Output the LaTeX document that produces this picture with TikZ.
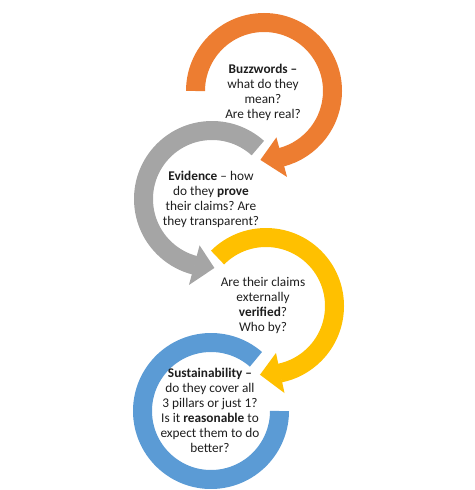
\documentclass[tikz,border=0pt]{standalone}
\usepackage{fontspec}
\setmainfont{Carlito}
\frenchspacing
\definecolor{corange}{HTML}{ED7D31}
\definecolor{cgray}{HTML}{A5A5A5}
\definecolor{cyellow}{HTML}{FFC000}
\definecolor{cblue}{HTML}{5B9BD5}
\definecolor{ctext}{HTML}{1E1E1E}
\begin{document}
\begin{tikzpicture}[x=1pt,y=1pt,
  band/.style={line width=19pt},
  txt/.style={align=center, font=\fontsize{13.3}{15}\selectfont\frenchspacing, text=ctext, inner sep=0pt}]
\useasboundingbox (0,0) rectangle (474,-490);
\coordinate (co) at (264,-91);
\coordinate (cg) at (212,-199);
\coordinate (cy) at (266,-306);
\coordinate (cb) at (211,-411);
% orange
\draw[band,corange] ([shift={(180:68.5)}]co) arc[start angle=180,end angle=-75.5,radius=68.5];
\fill[corange] ([shift={(-75:48)}]co) -- ([shift={(-93:69)}]co) -- ([shift={(-75:89)}]co) -- cycle;
% gray
\draw[band,cgray] ([shift={(48:68.5)}]cg) arc[start angle=48,end angle=255.5,radius=68.5];
\fill[cgray] ([shift={(255:48)}]cg) -- ([shift={(272:69)}]cg) -- ([shift={(255:89)}]cg) -- cycle;
% yellow
\draw[band,cyellow] ([shift={(135:68.5)}]cy) arc[start angle=135,end angle=-78.5,radius=68.5];
\fill[cyellow] ([shift={(-78:48)}]cy) -- ([shift={(-95:69)}]cy) -- ([shift={(-78:89)}]cy) -- cycle;
% blue
\draw[band,cblue] ([shift={(49:68.5)}]cb) arc[start angle=49,end angle=360,radius=68.5];
% texts
\node[txt] (to) at (263,-92) {\textbf{Buzzwords –}\\what do they\\mean?\\Are they real?};
\node[txt] (tg) at (211,-199) {\textbf{Evidence} – how\\do they \textbf{prove}\\their claims? Are\\they transparent?};
\node[txt] (ty) at (263,-305) {Are their claims\\externally\\\textbf{verified}?\\Who by?};
\node[txt] (tb) at (210,-410) {\textbf{Sustainability –}\\do they cover all\\3 pillars or just 1?\\Is it \textbf{reasonable} to\\expect them to do\\better?};
\end{tikzpicture}
\end{document}
